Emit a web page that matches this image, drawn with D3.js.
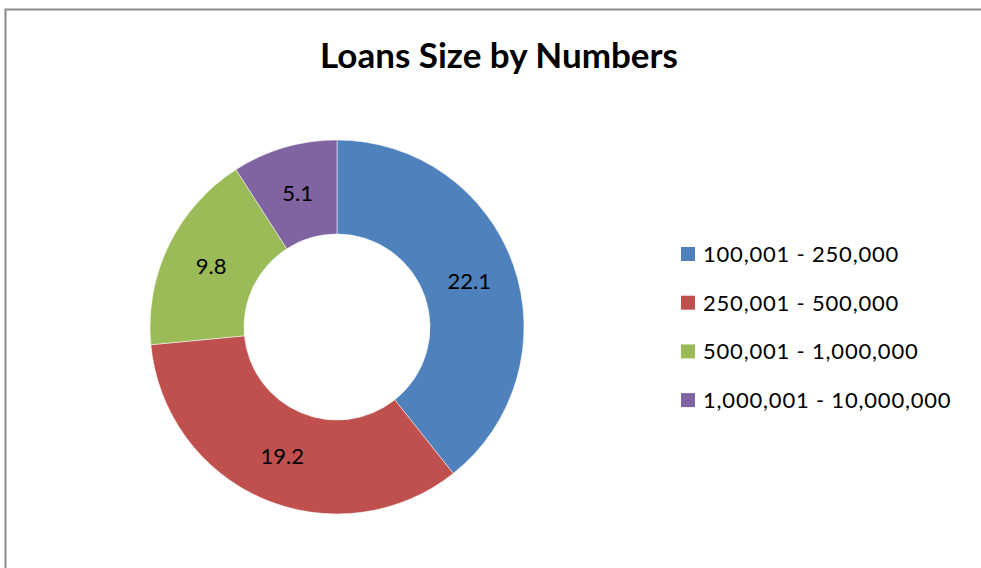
<!DOCTYPE html>
<html>
<head>
<meta charset="utf-8">
<script src="https://cdn.jsdelivr.net/npm/d3@7"></script>
<style>
  html, body { margin: 0; padding: 0; background: #fff; }
  svg { display: block; }
  text { font-family: Lato, "Open Sans", sans-serif; fill: #000; }
</style>
</head>
<body>
<svg id="chart" width="981" height="568"></svg>
<script>
// Loan size brackets and their counts
const categories = ["100,001 - 250,000", "250,001 - 500,000", "500,001 - 1,000,000", "1,000,001 - 10,000,000"];
const values = [22.1, 19.2, 9.8, 5.1];
const colors = ["#4F81BD", "#C0504D", "#9BBB59", "#8064A2"];
const title = "Loans Size by Numbers";

const svg = d3.select("#chart");
const W = 981, H = 568;

// chart frame
svg.append("rect")
  .attr("x", 5.5).attr("y", 9.5)
  .attr("width", W + 10).attr("height", H + 10)
  .attr("fill", "#fff").attr("stroke", "#898989").attr("stroke-width", 2);

svg.append("text")
  .attr("x", 499).attr("y", 68)
  .attr("text-anchor", "middle")
  .attr("font-size", 35).attr("font-weight", "bold")
  .text(title);

const cx = 337, cy = 327, rOuter = 187, rInner = 93;
const data = categories.map((c, i) => ({ label: c, value: values[i], color: colors[i] }));

const pie = d3.pie().value(d => d.value).sort(null);
const arc = d3.arc().innerRadius(rInner).outerRadius(rOuter);
const labelArc = d3.arc().innerRadius(140).outerRadius(140);

const g = svg.append("g").attr("transform", `translate(${cx},${cy})`);
const arcs = pie(data);

g.selectAll("path.slice")
  .data(arcs)
  .join("path")
  .attr("class", "slice")
  .attr("d", arc)
  .attr("fill", d => d.data.color)
  .attr("stroke", "#fff").attr("stroke-width", 0.5);

g.selectAll("text.val")
  .data(arcs)
  .join("text")
  .attr("class", "val")
  .attr("transform", d => `translate(${labelArc.centroid(d)})`)
  .attr("text-anchor", "middle")
  .attr("y", 8)
  .attr("font-size", 22)
  .text(d => d3.format(".1f")(d.data.value));

// legend
const legend = svg.append("g").attr("transform", "translate(681,254)");
const rows = legend.selectAll("g.row")
  .data(data)
  .join("g")
  .attr("class", "row")
  .attr("transform", (d, i) => `translate(0,${i * 48.7})`);

rows.append("rect")
  .attr("x", 0).attr("y", -7)
  .attr("width", 14).attr("height", 14)
  .attr("fill", d => d.color);

rows.append("text")
  .attr("x", 22).attr("y", 8)
  .attr("font-size", 22)
  .attr("letter-spacing", 0.8)
  .text(d => d.label);
</script>
</body>
</html>
